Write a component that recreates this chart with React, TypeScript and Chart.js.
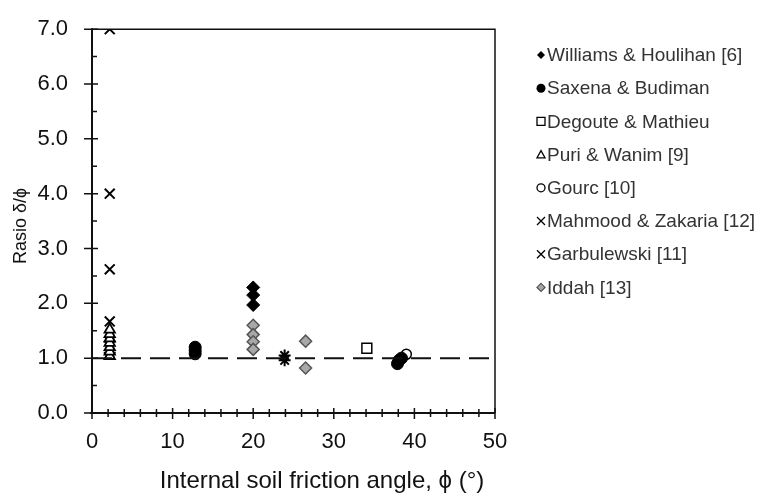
import React, { useEffect, useRef } from "react";
import { Chart, registerables } from "chart.js";

Chart.register(...registerables);

// ---- data ----
const xTickValues = [0, 10, 20, 30, 40, 50];
const yTickValues = [0, 1, 2, 3, 4, 5, 6, 7];

const williamsX = [20, 20, 20];
const williamsY = [2.29, 2.15, 1.97];

const saxenaX = [12.8, 12.8, 12.8, 37.9, 38.1, 38.4];
const saxenaY = [1.08, 1.14, 1.2, 0.9, 0.96, 1.0];

const degouteX = [34.1];
const degouteY = [1.18];

const puriX = [2.2, 2.2, 2.2, 2.2, 2.2, 2.2, 2.2];
const puriY = [1.04, 1.12, 1.2, 1.28, 1.36, 1.44, 1.52];

const gourcX = [39.0];
const gourcY = [1.07];

const mahmoodX = [2.2, 2.2, 2.2, 2.2];
const mahmoodY = [7.0, 4.0, 2.62, 1.67];

const garbulewskiX = [23.9, 23.9, 2.2, 2.2];
const garbulewskiY = [1.05, 0.96, 1.1, 1.3];

const iddahX = [20, 20, 20, 20, 26.5, 26.5];
const iddahY = [1.6, 1.43, 1.3, 1.16, 1.31, 0.82];

const refLineX = [0, 50];
const refLineY = [1, 1];

const legendLabels = [
  "Williams & Houlihan [6]",
  "Saxena & Budiman",
  "Degoute & Mathieu",
  "Puri & Wanim [9]",
  "Gourc [10]",
  "Mahmood & Zakaria [12]",
  "Garbulewski [11]",
  "Iddah [13]",
];

const pts = (xs: number[], ys: number[]) => xs.map((x, i) => ({ x, y: ys[i] }));

const GRAY_FILL = "#a8a8a8";
const GRAY_EDGE = "#555555";
const FONT = "'Liberation Sans', Arial, sans-serif";

function drawMarker(ctx: CanvasRenderingContext2D, kind: number, x: number, y: number, r: number) {
  ctx.save();
  ctx.lineWidth = 1.3;
  ctx.strokeStyle = "#000";
  ctx.fillStyle = "#000";
  ctx.beginPath();
  switch (kind) {
    case 0:
      ctx.moveTo(x, y - r); ctx.lineTo(x + r, y); ctx.lineTo(x, y + r); ctx.lineTo(x - r, y); ctx.closePath();
      ctx.fill();
      break;
    case 1:
      ctx.arc(x, y, r, 0, Math.PI * 2); ctx.fill();
      break;
    case 2:
      ctx.rect(x - r, y - r, 2 * r, 2 * r); ctx.stroke();
      break;
    case 3:
      ctx.moveTo(x, y - r); ctx.lineTo(x + r, y + r * 0.8); ctx.lineTo(x - r, y + r * 0.8); ctx.closePath(); ctx.stroke();
      break;
    case 4:
      ctx.arc(x, y, r, 0, Math.PI * 2); ctx.stroke();
      break;
    case 5:
    case 6:
      ctx.moveTo(x - r, y - r); ctx.lineTo(x + r, y + r); ctx.moveTo(x + r, y - r); ctx.lineTo(x - r, y + r); ctx.stroke();
      break;
    case 7:
      ctx.fillStyle = GRAY_FILL; ctx.strokeStyle = GRAY_EDGE;
      ctx.moveTo(x, y - r); ctx.lineTo(x + r, y); ctx.lineTo(x, y + r); ctx.lineTo(x - r, y); ctx.closePath();
      ctx.fill(); ctx.stroke();
      break;
  }
  ctx.restore();
}

const framePlugin = {
  id: "frame",
  beforeDatasetsDraw(chart: any) {
    const { ctx, chartArea } = chart;
    const xs = chart.scales.x;
    const ys = chart.scales.y;
    const { left, right, top, bottom } = chartArea;
    ctx.save();
    ctx.strokeStyle = "#111";
    ctx.lineWidth = 1.5;
    ctx.beginPath();
    ctx.moveTo(left, top); ctx.lineTo(right, top); ctx.lineTo(right, bottom);
    ctx.stroke();
    ctx.lineWidth = 2;
    ctx.beginPath();
    ctx.moveTo(left, top - 1); ctx.lineTo(left, bottom);
    ctx.moveTo(left - 2, bottom); ctx.lineTo(right, bottom);
    ctx.stroke();
    ctx.lineWidth = 1.5;
    ctx.beginPath();
    for (let v = 0; v <= 50; v += 2) {
      const px = xs.getPixelForValue(v);
      const major = v % 10 === 0;
      ctx.moveTo(px, bottom - (major ? 5 : 4));
      ctx.lineTo(px, bottom + (major ? 6 : 4));
    }
    ctx.stroke();
    ctx.beginPath();
    for (let v = 0; v <= 7; v += 0.5) {
      const py = ys.getPixelForValue(v);
      const major = Math.abs(v - Math.round(v)) < 1e-6;
      if (major) {
        ctx.moveTo(left - 8, py); ctx.lineTo(left + 6, py);
      } else {
        ctx.moveTo(left, py); ctx.lineTo(left + 5, py);
      }
    }
    ctx.stroke();
    ctx.restore();
  },
  afterDraw(chart: any) {
    const { ctx } = chart;
    ctx.save();
    ctx.fillStyle = "#111";
    ctx.font = "24px " + FONT;
    ctx.textAlign = "center";
    ctx.textBaseline = "middle";
    ctx.fillText("Internal soil friction angle, \u03d5 (\u00b0)", 322, 481);
    ctx.save();
    ctx.translate(21, 226);
    ctx.rotate(-Math.PI / 2);
    ctx.font = "18px " + FONT;
    ctx.fillText("Rasio \u03b4/\u03d5", 0, 0);
    ctx.restore();
    ctx.font = "19px " + FONT;
    ctx.textAlign = "left";
    legendLabels.forEach((lab, i) => {
      const y = 55 + i * 33.2;
      drawMarker(ctx, i, 541, y, i === 1 ? 4.5 : 4);
      ctx.fillStyle = "#333";
      ctx.fillText(lab, 547, y + 1);
    });
    ctx.restore();
  },
};

export default function App() {
  const ref = useRef<HTMLCanvasElement | null>(null);

  useEffect(() => {
    document.body.style.margin = "0";
    if (!ref.current) return;
    const tickFont = { family: FONT, size: 22 };
    const chart = new Chart(ref.current, {
      type: "scatter",
      data: {
        datasets: [
          {
            label: "ref",
            type: "line",
            data: pts(refLineX, refLineY),
            borderColor: "#111",
            borderWidth: 2,
            borderDash: [20, 9],
            pointRadius: 0,
            fill: false,
          } as any,
          {
            label: legendLabels[7],
            data: pts(iddahX, iddahY),
            pointStyle: "rectRot",
            pointRadius: 6,
            backgroundColor: GRAY_FILL,
            borderColor: GRAY_EDGE,
            borderWidth: 1.5,
          },
          {
            label: legendLabels[0],
            data: pts(williamsX, williamsY),
            pointStyle: "rectRot",
            pointRadius: 6.5,
            backgroundColor: "#000",
            borderColor: "#000",
          },
          {
            label: legendLabels[1],
            data: pts(saxenaX, saxenaY),
            pointStyle: "circle",
            pointRadius: 6,
            backgroundColor: "#000",
            borderColor: "#000",
          },
          {
            label: legendLabels[2],
            data: pts(degouteX, degouteY),
            pointStyle: "rect",
            pointRadius: 7,
            backgroundColor: "#fff",
            borderColor: "#000",
            borderWidth: 1.5,
          },
          {
            label: legendLabels[3],
            data: pts(puriX, puriY),
            pointStyle: "triangle",
            pointRadius: 6,
            backgroundColor: "#fff",
            borderColor: "#000",
            borderWidth: 1.8,
          },
          {
            label: legendLabels[4],
            data: pts(gourcX, gourcY),
            pointStyle: "circle",
            pointRadius: 5,
            backgroundColor: "#fff",
            borderColor: "#000",
            borderWidth: 1.5,
          },
          {
            label: legendLabels[5],
            data: pts(mahmoodX, mahmoodY),
            pointStyle: "crossRot",
            pointRadius: 7,
            borderColor: "#000",
            borderWidth: 2,
          },
          {
            label: legendLabels[6],
            data: pts(garbulewskiX, garbulewskiY),
            pointStyle: "star",
            pointRadius: 6,
            borderColor: "#000",
            borderWidth: 2,
          },
        ],
      },
      options: {
        responsive: false,
        animation: false,
        layout: { padding: { top: 7, right: 760 - 495, left: 0, bottom: 0 } },
        plugins: { legend: { display: false }, tooltip: { enabled: false } },
        scales: {
          x: {
            type: "linear",
            min: 0,
            max: 50,
            afterFit: (s: any) => { s.height = 500 - 413; },
            afterBuildTicks: (s: any) => { s.ticks = xTickValues.map((v) => ({ value: v })); },
            ticks: { font: tickFont, color: "#111", padding: 8, callback: (v: any) => String(v) },
            grid: { display: false },
            border: { display: false },
          },
          y: {
            type: "linear",
            min: 0,
            max: 7,
            afterFit: (s: any) => { s.width = 92; },
            afterBuildTicks: (s: any) => { s.ticks = yTickValues.map((v) => ({ value: v })); },
            ticks: { font: tickFont, color: "#111", padding: 16, callback: (v: any) => Number(v).toFixed(1) },
            grid: { display: false },
            border: { display: false },
          },
        },
      },
      plugins: [framePlugin],
    });
    return () => chart.destroy();
  }, []);

  return <canvas ref={ref} width={760} height={500} style={{ display: "block" }} />;
}
